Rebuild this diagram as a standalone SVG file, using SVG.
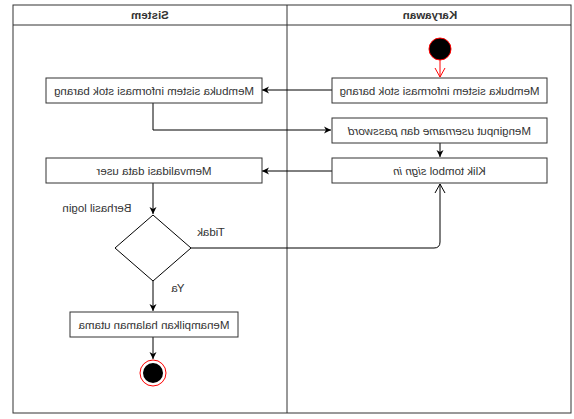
<svg xmlns="http://www.w3.org/2000/svg" width="574" height="419" viewBox="0 0 574 419">
<style>
.box{fill:#fff;stroke:#333;stroke-width:1}
.t{font-family:"Liberation Sans",Arial,sans-serif;font-size:11.5px;fill:#333;text-anchor:middle}
.i{font-style:italic}
.h{font-family:"Liberation Sans",Arial,sans-serif;font-size:11.5px;font-weight:bold;fill:#333;text-anchor:middle}
.c{fill:none;stroke:#000;stroke-width:1}
</style>
<defs>
<marker id="a" markerWidth="8" markerHeight="8" refX="7" refY="4" orient="auto" markerUnits="userSpaceOnUse">
<path d="M0,0.5 L7,4 L0,7.5 L2,4 Z" fill="#000"/>
</marker>
<marker id="o" markerWidth="10" markerHeight="12" refX="9" refY="6" orient="auto" markerUnits="userSpaceOnUse">
<path d="M0,1 L9,6 L0,11" fill="none" stroke="#000"/>
</marker>
<marker id="or" markerWidth="10" markerHeight="12" refX="9" refY="6" orient="auto" markerUnits="userSpaceOnUse">
<path d="M0,1 L9,6 L0,11" fill="none" stroke="#ff0000"/>
</marker>
</defs>
<g id="pool">
<rect x="13" y="5" width="558" height="408" fill="#fff" stroke="#333"/>
<line x1="13" y1="25" x2="571" y2="25" stroke="#333"/>
<line x1="287" y1="5" x2="287" y2="413" stroke="#333"/>
<text class="h" transform="translate(150,19) scale(-1,1)">Sistem</text>
<text class="h" transform="translate(430,19) scale(-1,1)">Karyawan</text>
</g>
<g id="connectors">
<line x1="440" y1="60" x2="440" y2="77" stroke="#ff0000" marker-end="url(#or)"/>
<line class="c" x1="332" y1="90" x2="262" y2="90" marker-end="url(#a)"/>
<path class="c" d="M153,103 V130 H331" marker-end="url(#a)"/>
<line class="c" x1="440" y1="143" x2="440" y2="157" marker-end="url(#a)"/>
<line class="c" x1="332" y1="171" x2="262" y2="171" marker-end="url(#a)"/>
<line class="c" x1="153" y1="183" x2="153" y2="214" marker-end="url(#a)"/>
<path class="c" d="M191,248 H434 Q440,248 440,242 V184" marker-end="url(#o)"/>
<line class="c" x1="153" y1="281" x2="153" y2="311" marker-end="url(#a)"/>
<line class="c" x1="153" y1="337" x2="153" y2="359" marker-end="url(#a)"/>
<text class="t" transform="translate(97,212) scale(-1,1)">Berhasil login</text>
<text class="t" transform="translate(211,236) scale(-1,1)">Tidak</text>
<text class="t" transform="translate(178,292) scale(-1,1)">Ya</text>
</g>
<g id="start"><circle cx="440" cy="49" r="11" fill="#000" stroke="#ff0000"/></g>
<g id="k1"><rect class="box" x="332" y="78" width="215" height="25"/><text class="t" transform="translate(439.5,94.5) scale(-1,1)">Membuka sistem informasi stok barang</text></g>
<g id="s1"><rect class="box" x="46" y="78" width="216" height="25"/><text class="t" transform="translate(154,94.5) scale(-1,1)">Membuka sistem informasi stok barang</text></g>
<g id="k2"><rect class="box" x="332" y="118" width="215" height="25"/><text class="t" transform="translate(439.5,134.5) scale(-1,1)">Menginput <tspan class="i">username</tspan> dan <tspan class="i">password</tspan></text></g>
<g id="k3"><rect class="box" x="332" y="158" width="215" height="25"/><text class="t" transform="translate(439.5,174.5) scale(-1,1)">Klik tombol <tspan class="i">sign in</tspan></text></g>
<g id="s2"><rect class="box" x="46" y="158" width="216" height="25"/><text class="t" transform="translate(154,174.5) scale(-1,1)">Memvalidasi data user</text></g>
<g id="decision"><path d="M153,215 L191,248 L153,281 L115,248 Z" fill="#fff" stroke="#000"/></g>
<g id="s3"><rect class="box" x="70" y="312" width="168" height="25"/><text class="t" transform="translate(154,328.5) scale(-1,1)">Menampilkan halaman utama</text></g>
<g id="end"><circle cx="153" cy="373" r="13" fill="#fff" stroke="#ff0000"/><circle cx="153" cy="373" r="10" fill="#000"/></g>
</svg>
